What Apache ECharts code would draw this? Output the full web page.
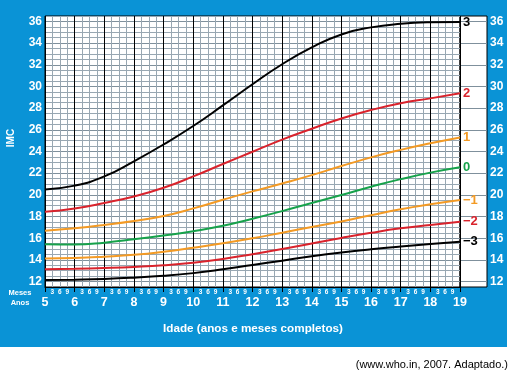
<!DOCTYPE html>
<html>
<head>
<meta charset="utf-8">
<script src="https://cdn.jsdelivr.net/npm/echarts@6/dist/echarts.min.js"></script>
<style>
  html, body { margin: 0; padding: 0; background: #fff; }
  #wrap { position: relative; width: 510px; height: 370px; background: #fff; }
  #blue { position: absolute; left: 0; top: 0; width: 507px; height: 347px; background: #0a93d6; }
  #chart { position: absolute; left: 0; top: 0; width: 510px; height: 370px; }
</style>
</head>
<body>
<div id="wrap"><div id="blue"></div><div id="chart"></div></div>
<script>
// Data (BMI z-score curves)
const years = [5, 6, 7, 8, 9, 10, 11, 12, 13, 14, 15, 16, 17, 18, 19];
const sdPlus3  = [20.5, 20.85, 21.7, 23.1, 24.65, 26.35, 28.25, 30.2, 32.05, 33.6, 34.8, 35.45, 35.78, 35.92, 35.95];
const sdPlus2  = [18.45, 18.75, 19.25, 19.85, 20.65, 21.7, 22.85, 23.98, 25.1, 26.1, 27.05, 27.83, 28.45, 28.9, 29.37];
const sdPlus1  = [16.7, 16.92, 17.22, 17.58, 18.05, 18.75, 19.55, 20.32, 21.05, 21.82, 22.66, 23.46, 24.15, 24.76, 25.3];
const sdZero   = [15.44, 15.42, 15.59, 15.9, 16.25, 16.65, 17.15, 17.8, 18.5, 19.25, 19.99, 20.75, 21.45, 22.05, 22.54];
const sdMinus1 = [14.14, 14.18, 14.3, 14.47, 14.75, 15.12, 15.53, 15.99, 16.51, 17.04, 17.55, 18.12, 18.67, 19.13, 19.53];
const sdMinus2 = [13.13, 13.18, 13.25, 13.35, 13.5, 13.74, 14.08, 14.52, 15.0, 15.52, 16.03, 16.5, 16.91, 17.22, 17.52];
const sdMinus3 = [12.15, 12.18, 12.24, 12.36, 12.53, 12.78, 13.13, 13.53, 13.93, 14.33, 14.68, 14.98, 15.24, 15.47, 15.68];
const curveLabels = ['3', '2', '1', '0', '\u22121', '\u22122', '\u22123'];
const quarterLabels = ['3', '6', '9'];
const yTitle = 'IMC';
const xTitle = 'Idade (anos e meses completos)';
const source = '(www.who.in, 2007. Adaptado.)';

const BLACK = '#000000', RED = '#d9232c', ORANGE = '#f39a24', GREEN = '#17a24b';
const curves = [sdPlus3, sdPlus2, sdPlus1, sdZero, sdMinus1, sdMinus2, sdMinus3];
const colors = [BLACK, RED, ORANGE, GREEN, ORANGE, RED, BLACK];
const GRID = '#98a7b2', GRID_DARK = '#7f909c';
const FONT = '"Liberation Sans", Arial, sans-serif';

const chart = echarts.init(document.getElementById('chart'), null, { renderer: 'canvas' });

const series = curves.map((vals, k) => ({
  type: 'line',
  xAxisIndex: 0, yAxisIndex: 0,
  data: years.map((x, i) => [x, vals[i]]),
  smooth: 0.5,
  showSymbol: false,
  lineStyle: { color: colors[k], width: 2 },
  z: 5,
  endLabel: {
    show: true,
    formatter: curveLabels[k],
    color: colors[k],
    fontFamily: FONT,
    fontWeight: 'bold',
    fontSize: 13,
    distance: 3
  },
  silent: true,
  animation: false
}));

const evenFmt = v => (Math.abs(v - Math.round(v)) < 1e-6 && Math.round(v) % 2 === 0) ? String(Math.round(v)) : '';

chart.setOption({
  animation: false,
  backgroundColor: 'transparent',
  grid: [
    { left: 45, top: 16, width: 415, height: 271, show: true, backgroundColor: '#fff', borderColor: '#000', borderWidth: 1 },
    { left: 460, top: 16, width: 27, height: 271, show: true, backgroundColor: '#fff', borderColor: '#000', borderWidth: 1 }
  ],
  xAxis: [
    { // quarter grid + month labels
      type: 'value', gridIndex: 0, min: 5, max: 19, interval: 0.25,
      axisLine: { show: false }, axisTick: { show: false },
      axisLabel: {
        margin: 2, color: '#fff', fontFamily: FONT, fontWeight: 'bold', fontSize: 6.5,
        formatter: v => {
          const f = Math.round((v - Math.floor(v)) * 4);
          return f === 0 ? '' : quarterLabels[f - 1];
        }
      },
      splitLine: { show: true, lineStyle: { color: [BLACK, GRID, GRID, GRID], width: 1 } }
    },
    { // years
      type: 'value', gridIndex: 0, min: 5, max: 19, interval: 1, position: 'bottom',
      axisLine: { show: true, lineStyle: { color: '#000', width: 1 } },
      axisTick: { show: true, length: 5, lineStyle: { color: '#000' } },
      axisLabel: { margin: 9, color: '#fff', fontFamily: FONT, fontWeight: 'bold', fontSize: 12.5 },
      splitLine: { show: false }
    },
    {
      type: 'value', gridIndex: 1, min: 19, max: 19.92, show: false
    }
  ],
  yAxis: [
    {
      type: 'value', gridIndex: 0, min: 11.5, max: 36.5, interval: 0.5, position: 'left',
      axisLine: { show: false }, axisTick: { show: false },
      axisLabel: { margin: 3, color: '#fff', fontFamily: FONT, fontWeight: 'bold', fontSize: 12, formatter: evenFmt },
      splitLine: { show: true, lineStyle: { color: [GRID, GRID_DARK, GRID, GRID], width: 1 } }
    },
    {
      type: 'value', gridIndex: 1, min: 11.5, max: 36.5, interval: 0.5, position: 'right',
      axisLine: { show: false }, axisTick: { show: false },
      axisLabel: { margin: 3, color: '#fff', fontFamily: FONT, fontWeight: 'bold', fontSize: 12, formatter: evenFmt },
      splitLine: { show: true, lineStyle: { color: ['rgba(0,0,0,0)', GRID_DARK, 'rgba(0,0,0,0)', 'rgba(0,0,0,0)'], width: 1 } }
    }
  ],
  graphic: [
    { type: 'text', x: 11, y: 138, rotation: Math.PI / 2, silent: true,
      style: { text: yTitle, fill: '#fff', font: 'bold 10px ' + FONT, textAlign: 'center', textVerticalAlign: 'middle' } },
    { type: 'text', x: 20, y: 293, silent: true,
      style: { text: 'Meses', fill: '#fff', font: 'bold 7.5px ' + FONT, textAlign: 'center', textVerticalAlign: 'middle' } },
    { type: 'text', x: 20, y: 303, silent: true,
      style: { text: 'Anos', fill: '#fff', font: 'bold 7.5px ' + FONT, textAlign: 'center', textVerticalAlign: 'middle' } },
    { type: 'text', x: 253, y: 329, silent: true,
      style: { text: xTitle, fill: '#fff', font: 'bold 11.7px ' + FONT, textAlign: 'center', textVerticalAlign: 'middle' } },
    { type: 'text', x: 508, y: 365, silent: true,
      style: { text: source, fill: '#000', font: '11px ' + FONT, textAlign: 'right', textVerticalAlign: 'middle' } }
  ],
  series: series
});
</script>
</body>
</html>
